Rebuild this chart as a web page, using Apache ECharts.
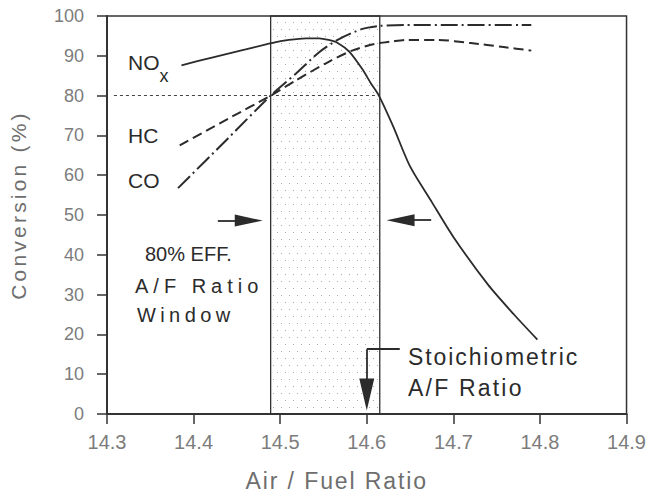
<!DOCTYPE html>
<html>
<head>
<meta charset="utf-8">
<script src="https://cdn.jsdelivr.net/npm/echarts@6/dist/echarts.min.js"></script>
<style>
  html, body { margin: 0; padding: 0; background: #fff; }
  #chart { width: 649px; height: 497px; }
</style>
</head>
<body>
<div id="chart"></div>
<script>
// Three-way catalyst conversion efficiency versus air/fuel ratio

// NOx conversion (solid curve)
const noxAF   = [14.386, 14.42, 14.46, 14.49, 14.51, 14.53, 14.545, 14.556, 14.566, 14.58, 14.595, 14.605, 14.614, 14.63, 14.65, 14.675, 14.70, 14.74, 14.77, 14.797];
const noxConv = [87.6, 89.5, 91.6, 93.2, 94.0, 94.4, 94.4, 94.0, 93.3, 91.0, 86.6, 83.0, 80.0, 72.5, 62.2, 53.3, 44.5, 32.5, 25.0, 18.7];

// HC conversion (dashed curve)
const hcAF   = [14.384, 14.44, 14.489, 14.518, 14.556, 14.583, 14.609, 14.629, 14.645, 14.682, 14.72, 14.758, 14.79];
const hcConv = [67.5, 74.2, 80.0, 83.8, 88.5, 91.3, 93.0, 93.6, 94.0, 94.0, 93.2, 92.2, 91.3];

// CO conversion (dash-dot curve)
const coAF   = [14.382, 14.44, 14.489, 14.518, 14.545, 14.568, 14.594, 14.614, 14.644, 14.70, 14.79];
const coConv = [56.75, 69.3, 80.0, 85.5, 90.9, 94.2, 96.7, 97.5, 97.75, 97.75, 97.75];

// 80 % efficiency window and stoichiometric point
const windowAF = [14.489, 14.615];
const effLevel = 80;
const stoichAF = 14.6;

// Axis ranges
const afRange = [14.3, 14.9];
const afStep = 0.1;
const convRange = [0, 100];
const convStep = 10;

// Annotation texts
const curveNames = ['NO', 'x', 'HC', 'CO'];
const windowText = ['80% EFF.', 'A/F Ratio', 'Window'];
const stoichText = ['Stoichiometric', 'A/F Ratio'];
const axisNames = ['Air / Fuel Ratio', 'Conversion (%)'];

const FONT = "'Liberation Sans', Arial, sans-serif";
const INK = '#2b2b2b';

const pair = (xs, ys) => xs.map((x, i) => [x, ys[i]]);

// Stipple used for the window shading
const dots = document.createElement('canvas');
dots.width = 8; dots.height = 14;
{
  const c = dots.getContext('2d');
  c.fillStyle = 'rgba(110,110,110,0.6)';
  c.fillRect(1, 1, 1, 1);
  c.fillRect(5, 8, 1, 1);
}

const chart = echarts.init(document.getElementById('chart'), null, { renderer: 'svg' });

const curveLine = (color, width, type) => ({ color, width, type });

function label(text, x, y, size, color) {
  return {
    type: 'text', x, y, silent: true,
    style: { text, font: `${size}px ${FONT}`, fill: color || INK, textAlign: 'left', textVerticalAlign: 'middle' }
  };
}

chart.setOption({
  animation: false,
  backgroundColor: '#fff',
  grid: { left: 103, right: 22, top: 16, bottom: 80, show: true, borderColor: '#333', borderWidth: 1.5, backgroundColor: 'transparent' },
  xAxis: {
    type: 'value', min: afRange[0], max: afRange[1], interval: afStep,
    name: axisNames[0], nameLocation: 'middle', nameGap: 55,
    nameTextStyle: { fontFamily: FONT, fontSize: 23, color: '#6e6e6e', padding: [0, 60, 0, 0] },
    axisLine: { lineStyle: { color: '#333', width: 2 } },
    axisTick: { length: 10, lineStyle: { color: '#333', width: 1.5 } },
    axisLabel: { margin: 18, fontFamily: FONT, fontSize: 20, color: '#7c7c7c', formatter: v => v.toFixed(1) },
    splitLine: { show: false }
  },
  yAxis: {
    type: 'value', min: convRange[0], max: convRange[1], interval: convStep,
    name: axisNames[1], nameLocation: 'middle', nameGap: 78,
    nameTextStyle: { fontFamily: FONT, fontSize: 21, color: '#6e6e6e', padding: [0, 0, 0, 20] },
    axisLine: { show: true, lineStyle: { color: '#333', width: 2 } },
    axisTick: { show: true, length: 10, lineStyle: { color: '#333', width: 1.5 } },
    axisLabel: { margin: 23, fontFamily: FONT, fontSize: 18, color: '#7c7c7c' },
    splitLine: { show: false }
  },
  series: [
    {
      name: 'window', type: 'line', data: [], silent: true,
      markArea: {
        silent: true,
        itemStyle: { color: { image: dots, repeat: 'repeat' }, borderColor: '#333', borderWidth: 1.3 },
        data: [[{ coord: [windowAF[0], convRange[0]] }, { coord: [windowAF[1], convRange[1]] }]]
      },
      markLine: {
        silent: true, symbol: 'none', label: { show: false },
        lineStyle: { color: '#444', width: 1.2, type: [3, 3] },
        data: [[{ coord: [14.308, effLevel] }, { coord: [windowAF[1], effLevel] }]]
      }
    },
    {
      name: 'NOx', type: 'line', data: pair(noxAF, noxConv), showSymbol: false, silent: true,
      smooth: 0.25, lineStyle: curveLine(INK, 1.8, 'solid'), z: 5
    },
    {
      name: 'HC', type: 'line', data: pair(hcAF, hcConv), showSymbol: false, silent: true,
      smooth: 0.25, lineStyle: curveLine(INK, 2, [10, 5]), z: 5
    },
    {
      name: 'CO', type: 'line', data: pair(coAF, coConv), showSymbol: false, silent: true,
      smooth: 0.25, lineStyle: curveLine(INK, 2, [17, 4, 2, 4]), z: 5
    },
    {
      name: 'arrows', type: 'line', data: [], silent: true,
      markLine: {
        silent: true, label: { show: false }, symbol: ['none', 'triangle'], symbolSize: [12, 28],
        lineStyle: { color: INK, width: 1.8, type: 'solid' }, itemStyle: { color: INK },
        data: [
          [{ coord: [14.428, 48.6] }, { coord: [14.4637, 48.6] }],
          [{ coord: [14.6744, 48.7] }, { coord: [14.639, 48.7] }],
          [{ coord: [14.6381, 16.3], symbol: 'none' }, { coord: [stoichAF, 16.3], symbol: 'none' }],
          [{ coord: [stoichAF, 16.3], symbol: 'none' }, { coord: [stoichAF, 4.9], symbol: 'triangle', symbolSize: [15, 32] }]
        ]
      }
    }
  ],
  graphic: [
    label(curveNames[0], 128, 62.5, 21),
    label(curveNames[1], 159.5, 75.5, 18),
    label(curveNames[2], 128, 135, 21),
    label(curveNames[3], 128, 180.5, 21),
    label(windowText[0], 145, 254, 20),
    label(windowText[1], 135, 285.5, 20),
    label(windowText[2], 137, 314.5, 20),
    label(stoichText[0], 408, 356.7, 23),
    label(stoichText[1], 408, 387.5, 23)
  ]
});

// Letter spacing of the lettered labels (text, font size, spacing in px)
const spacing = [
  ['A/F Ratio', 20, 5],
  ['Window', 20, 4.4],
  ['Stoichiometric', 23, 1.9],
  ['A/F Ratio', 23, 2.2],
  ['Air / Fuel Ratio', 23, 1.9],
  ['Conversion (%)', 21, 3.2]
];

function applySpacing() {
  const root = document.getElementById('chart');
  root.querySelectorAll('text').forEach(t => {
    const size = Math.round(parseFloat(getComputedStyle(t).fontSize));
    const rule = spacing.find(r => r[0] === t.textContent && r[1] === size);
    if (rule) t.setAttribute('letter-spacing', rule[2] + 'px');
  });
}
chart.getZr().flush();
applySpacing();
chart.on('finished', applySpacing);
</script>
</body>
</html>
